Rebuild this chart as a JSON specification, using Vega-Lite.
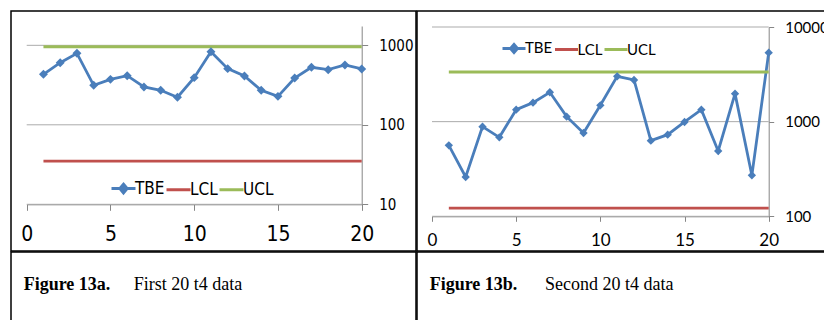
{
  "$schema": "https://vega.github.io/schema/vega-lite/v6.json",
  "background": "white",
  "padding": {"left": 10, "top": 10, "right": 0, "bottom": 0},
  "spacing": -1.5,
  "config": {
    "view": {"stroke": "black", "strokeWidth": 1.5},
    "concat": {"spacing": 0}
  },
  "resolve": {"scale": {"color": "independent"}, "legend": {"color": "independent"}},
  "datasets": {
    "first20": [
      {"t": 1, "series": "TBE", "value": 432}, {"t": 2, "series": "TBE", "value": 605}, {"t": 3, "series": "TBE", "value": 793},
      {"t": 4, "series": "TBE", "value": 314}, {"t": 5, "series": "TBE", "value": 373}, {"t": 6, "series": "TBE", "value": 415},
      {"t": 7, "series": "TBE", "value": 299}, {"t": 8, "series": "TBE", "value": 272}, {"t": 9, "series": "TBE", "value": 222},
      {"t": 10, "series": "TBE", "value": 392}, {"t": 11, "series": "TBE", "value": 832}, {"t": 12, "series": "TBE", "value": 509},
      {"t": 13, "series": "TBE", "value": 411}, {"t": 14, "series": "TBE", "value": 272}, {"t": 15, "series": "TBE", "value": 228},
      {"t": 16, "series": "TBE", "value": 388}, {"t": 17, "series": "TBE", "value": 529}, {"t": 18, "series": "TBE", "value": 494},
      {"t": 19, "series": "TBE", "value": 566}, {"t": 20, "series": "TBE", "value": 504},
      {"t": 1, "series": "LCL", "value": 35}, {"t": 2, "series": "LCL", "value": 35}, {"t": 3, "series": "LCL", "value": 35},
      {"t": 4, "series": "LCL", "value": 35}, {"t": 5, "series": "LCL", "value": 35}, {"t": 6, "series": "LCL", "value": 35},
      {"t": 7, "series": "LCL", "value": 35}, {"t": 8, "series": "LCL", "value": 35}, {"t": 9, "series": "LCL", "value": 35},
      {"t": 10, "series": "LCL", "value": 35}, {"t": 11, "series": "LCL", "value": 35}, {"t": 12, "series": "LCL", "value": 35},
      {"t": 13, "series": "LCL", "value": 35}, {"t": 14, "series": "LCL", "value": 35}, {"t": 15, "series": "LCL", "value": 35},
      {"t": 16, "series": "LCL", "value": 35}, {"t": 17, "series": "LCL", "value": 35}, {"t": 18, "series": "LCL", "value": 35},
      {"t": 19, "series": "LCL", "value": 35}, {"t": 20, "series": "LCL", "value": 35},
      {"t": 1, "series": "UCL", "value": 960}, {"t": 2, "series": "UCL", "value": 960}, {"t": 3, "series": "UCL", "value": 960},
      {"t": 4, "series": "UCL", "value": 960}, {"t": 5, "series": "UCL", "value": 960}, {"t": 6, "series": "UCL", "value": 960},
      {"t": 7, "series": "UCL", "value": 960}, {"t": 8, "series": "UCL", "value": 960}, {"t": 9, "series": "UCL", "value": 960},
      {"t": 10, "series": "UCL", "value": 960}, {"t": 11, "series": "UCL", "value": 960}, {"t": 12, "series": "UCL", "value": 960},
      {"t": 13, "series": "UCL", "value": 960}, {"t": 14, "series": "UCL", "value": 960}, {"t": 15, "series": "UCL", "value": 960},
      {"t": 16, "series": "UCL", "value": 960}, {"t": 17, "series": "UCL", "value": 960}, {"t": 18, "series": "UCL", "value": 960},
      {"t": 19, "series": "UCL", "value": 960}, {"t": 20, "series": "UCL", "value": 960}
    ],
    "second20": [
      {"t": 1, "series": "TBE", "value": 562}, {"t": 2, "series": "TBE", "value": 260}, {"t": 3, "series": "TBE", "value": 886},
      {"t": 4, "series": "TBE", "value": 683}, {"t": 5, "series": "TBE", "value": 1339}, {"t": 6, "series": "TBE", "value": 1587},
      {"t": 7, "series": "TBE", "value": 2042}, {"t": 8, "series": "TBE", "value": 1129}, {"t": 9, "series": "TBE", "value": 759},
      {"t": 10, "series": "TBE", "value": 1488}, {"t": 11, "series": "TBE", "value": 3013}, {"t": 12, "series": "TBE", "value": 2755},
      {"t": 13, "series": "TBE", "value": 630}, {"t": 14, "series": "TBE", "value": 729}, {"t": 15, "series": "TBE", "value": 992},
      {"t": 16, "series": "TBE", "value": 1339}, {"t": 17, "series": "TBE", "value": 490}, {"t": 18, "series": "TBE", "value": 1976},
      {"t": 19, "series": "TBE", "value": 271}, {"t": 20, "series": "TBE", "value": 5357},
      {"t": 1, "series": "LCL", "value": 122}, {"t": 2, "series": "LCL", "value": 122}, {"t": 3, "series": "LCL", "value": 122},
      {"t": 4, "series": "LCL", "value": 122}, {"t": 5, "series": "LCL", "value": 122}, {"t": 6, "series": "LCL", "value": 122},
      {"t": 7, "series": "LCL", "value": 122}, {"t": 8, "series": "LCL", "value": 122}, {"t": 9, "series": "LCL", "value": 122},
      {"t": 10, "series": "LCL", "value": 122}, {"t": 11, "series": "LCL", "value": 122}, {"t": 12, "series": "LCL", "value": 122},
      {"t": 13, "series": "LCL", "value": 122}, {"t": 14, "series": "LCL", "value": 122}, {"t": 15, "series": "LCL", "value": 122},
      {"t": 16, "series": "LCL", "value": 122}, {"t": 17, "series": "LCL", "value": 122}, {"t": 18, "series": "LCL", "value": 122},
      {"t": 19, "series": "LCL", "value": 122}, {"t": 20, "series": "LCL", "value": 122},
      {"t": 1, "series": "UCL", "value": 3347}, {"t": 2, "series": "UCL", "value": 3347}, {"t": 3, "series": "UCL", "value": 3347},
      {"t": 4, "series": "UCL", "value": 3347}, {"t": 5, "series": "UCL", "value": 3347}, {"t": 6, "series": "UCL", "value": 3347},
      {"t": 7, "series": "UCL", "value": 3347}, {"t": 8, "series": "UCL", "value": 3347}, {"t": 9, "series": "UCL", "value": 3347},
      {"t": 10, "series": "UCL", "value": 3347}, {"t": 11, "series": "UCL", "value": 3347}, {"t": 12, "series": "UCL", "value": 3347},
      {"t": 13, "series": "UCL", "value": 3347}, {"t": 14, "series": "UCL", "value": 3347}, {"t": 15, "series": "UCL", "value": 3347},
      {"t": 16, "series": "UCL", "value": 3347}, {"t": 17, "series": "UCL", "value": 3347}, {"t": 18, "series": "UCL", "value": 3347},
      {"t": 19, "series": "UCL", "value": 3347}, {"t": 20, "series": "UCL", "value": 3347}
    ],
    "gridA": [{"g": 10}, {"g": 100}, {"g": 1000}],
    "gridB": [{"g": 100}, {"g": 1000}, {"g": 10000}],
    "captionA": [{"fig": "Figure 13a.", "desc": "First 20 t4 data"}],
    "captionB": [{"fig": "Figure 13b.", "desc": "Second 20 t4 data"}]
  },
  "vconcat": [
    {
      "spacing": -1.5,
      "resolve": {"scale": {"color": "independent"}, "legend": {"color": "independent"}},
      "hconcat": [
        {
          "width": 405,
          "height": 240,
          "layer": [
            {
              "data": {"name": "gridA"},
              "mark": {"type": "rule", "color": "#ABABAB", "strokeWidth": 1},
              "encoding": {
                "y": {"field": "g", "type": "quantitative"},
                "x": {"datum": 0},
                "x2": {"datum": 20}
              }
            },
            {
              "data": {"name": "first20"},
              "mark": {"type": "line", "strokeWidth": 2.8},
              "encoding": {
                "x": {
                  "field": "t", "type": "quantitative",
                  "scale": {"domain": [0, 20], "range": [15.7, 350.7], "nice": false, "zero": false},
                  "axis": {
                    "orient": "bottom", "offset": -46.7, "values": [0, 5, 10, 15, 20], "grid": false, "title": null,
                    "domainColor": "#868686", "tickColor": "#868686", "tickSize": 6,
                    "labelFont": "Liberation Sans Narrow, DejaVu Sans Condensed, sans-serif", "labelFontSize": 21,
                    "labelColor": "black", "labelPadding": 13, "labelFlush": false, "labelOverlap": false
                  }
                },
                "y": {
                  "field": "value", "type": "quantitative",
                  "scale": {"type": "log", "domain": [10, 1750], "range": [193.3, 15], "nice": false},
                  "axis": {
                    "orient": "right", "offset": -54.3, "values": [10, 100, 1000], "format": "d", "title": null,
                    "grid": false,
                    "domainColor": "#868686", "tickColor": "#868686", "tickSize": 6,
                    "labelFont": "Liberation Sans Narrow, DejaVu Sans Condensed, sans-serif", "labelFontSize": 15,
                    "labelColor": "black", "labelPadding": 11, "labelOverlap": false
                  }
                },
                "color": {
                  "field": "series", "type": "nominal",
                  "scale": {"domain": ["TBE", "LCL", "UCL"], "range": ["#4A7EBB", "#C0504D", "#9BBB59"]},
                  "legend": {
                    "title": null, "orient": "none", "legendX": 99, "legendY": 164, "direction": "horizontal",
                    "symbolType": "stroke", "symbolSize": 576, "symbolStrokeWidth": 3,
                    "labelFont": "Liberation Sans Narrow, DejaVu Sans Condensed, sans-serif", "labelFontSize": 17,
                    "labelColor": "black", "labelOffset": -2, "columnPadding": -10, "padding": 0,
                    "encode": {
                      "symbols": {
                        "update": {
                          "shape": {"signal": "datum.value === 'TBE' ? 'M-1,0H1M0,-0.36L0.3,0L0,0.36L-0.3,0Z' : 'M-1,0H1'"},
                          "fill": {"signal": "datum.value === 'TBE' ? '#4A7EBB' : 'transparent'"}
                        }
                      }
                    }
                  }
                }
              }
            },
            {
              "data": {"name": "first20"},
              "transform": [{"filter": "datum.series === 'TBE'"}],
              "mark": {"type": "point", "shape": "diamond", "filled": true, "size": 80, "color": "#4A7EBB", "opacity": 1},
              "encoding": {
                "x": {"field": "t", "type": "quantitative"},
                "y": {"field": "value", "type": "quantitative"}
              }
            }
          ]
        },
        {
          "width": 420,
          "height": 240,
          "layer": [
            {
              "data": {"name": "gridB"},
              "mark": {"type": "rule", "color": "#ABABAB", "strokeWidth": 1},
              "encoding": {
                "y": {"field": "g", "type": "quantitative"},
                "x": {"datum": 0},
                "x2": {"datum": 20}
              }
            },
            {
              "data": {"name": "second20"},
              "mark": {"type": "line", "strokeWidth": 2.8},
              "encoding": {
                "x": {
                  "field": "t", "type": "quantitative",
                  "scale": {"domain": [0, 20], "range": [15, 351.7], "nice": false, "zero": false},
                  "axis": {
                    "orient": "bottom", "offset": -34.7, "values": [0, 5, 10, 15, 20], "grid": false, "title": null,
                    "domainColor": "#868686", "tickColor": "#868686", "tickSize": 5,
                    "labelFont": "Lato", "labelFontSize": 17,
                    "labelColor": "black", "labelPadding": 11, "labelFlush": false, "labelOverlap": false
                  }
                },
                "y": {
                  "field": "value", "type": "quantitative",
                  "scale": {"type": "log", "domain": [100, 10000], "range": [205.3, 16], "nice": false},
                  "axis": {
                    "orient": "right", "offset": -68.3, "values": [100, 1000, 10000], "format": "d", "title": null,
                    "grid": false,
                    "domainColor": "#868686", "tickColor": "#868686", "tickSize": 5,
                    "labelFont": "Lato", "labelFontSize": 15,
                    "labelColor": "black", "labelPadding": 11, "labelOverlap": false
                  }
                },
                "color": {
                  "field": "series", "type": "nominal",
                  "scale": {"domain": ["TBE", "LCL", "UCL"], "range": ["#4A7EBB", "#C0504D", "#9BBB59"]},
                  "legend": {
                    "title": null, "orient": "none", "legendX": 84, "legendY": 24, "direction": "horizontal",
                    "symbolType": "stroke", "symbolSize": 529, "symbolStrokeWidth": 3,
                    "labelFont": "Lato", "labelFontSize": 15,
                    "labelColor": "black", "labelOffset": -2, "columnPadding": -4.5, "padding": 0,
                    "encode": {
                      "symbols": {
                        "update": {
                          "shape": {"signal": "datum.value === 'TBE' ? 'M-1,0H1M0,-0.35L0.3,0L0,0.35L-0.3,0Z' : 'M-1,0H1'"},
                          "fill": {"signal": "datum.value === 'TBE' ? '#4A7EBB' : 'transparent'"}
                        }
                      }
                    }
                  }
                }
              }
            },
            {
              "data": {"name": "second20"},
              "transform": [{"filter": "datum.series === 'TBE'"}],
              "mark": {"type": "point", "shape": "diamond", "filled": true, "size": 70, "color": "#4A7EBB", "opacity": 1},
              "encoding": {
                "x": {"field": "t", "type": "quantitative"},
                "y": {"field": "value", "type": "quantitative"}
              }
            }
          ]
        }
      ]
    },
    {
      "spacing": -1.5,
      "hconcat": [
        {
          "width": 405,
          "height": 80,
          "view": {"stroke": "black", "strokeWidth": 1.5},
          "data": {"name": "captionA"},
          "layer": [
            {
              "mark": {"type": "text", "font": "Liberation Serif", "fontSize": 18, "fontWeight": "bold", "align": "left", "baseline": "alphabetic", "x": 12.7, "y": 38, "color": "black"},
              "encoding": {"text": {"field": "fig"}}
            },
            {
              "mark": {"type": "text", "font": "Liberation Serif", "fontSize": 18, "align": "left", "baseline": "alphabetic", "x": 122.7, "y": 38, "color": "black"},
              "encoding": {"text": {"field": "desc"}}
            }
          ]
        },
        {
          "width": 420,
          "height": 80,
          "view": {"stroke": "black", "strokeWidth": 1.5},
          "data": {"name": "captionB"},
          "layer": [
            {
              "mark": {"type": "text", "font": "Liberation Serif", "fontSize": 18, "fontWeight": "bold", "align": "left", "baseline": "alphabetic", "x": 12.7, "y": 38, "color": "black"},
              "encoding": {"text": {"field": "fig"}}
            },
            {
              "mark": {"type": "text", "font": "Liberation Serif", "fontSize": 18, "align": "left", "baseline": "alphabetic", "x": 128, "y": 38, "color": "black"},
              "encoding": {"text": {"field": "desc"}}
            }
          ]
        }
      ]
    }
  ]
}
